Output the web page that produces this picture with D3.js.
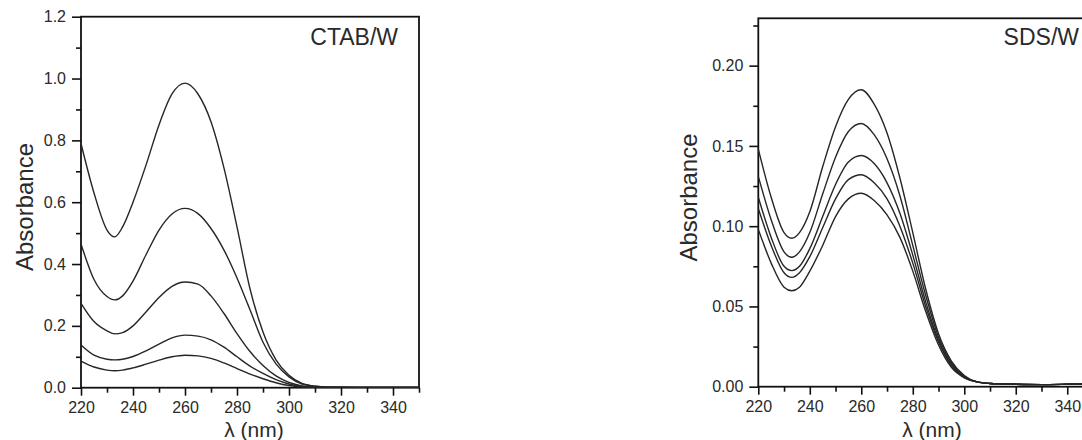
<!DOCTYPE html>
<html>
<head>
<meta charset="utf-8">
<script src="https://cdn.jsdelivr.net/npm/d3@7"></script>
<style>
    body { margin: 0; background: #fff; }
    text { font-family: "Liberation Sans", Arial, sans-serif; fill: #2a2a2a; }
</style>
</head>
<body>
<svg id="chart" width="1082" height="440"></svg>
<script>
    // wavelengths (nm) shared by all spectra
    var wavelengths = [220, 225, 230, 233, 236, 240, 245, 250, 255, 260, 265, 270, 275,
        280, 285, 290, 295, 300, 305, 310, 315, 320, 330, 340, 350];

    // CTAB/W spectra
    var ctab1 = [0.79, 0.63, 0.51, 0.488, 0.52, 0.60, 0.72, 0.85, 0.95, 0.985, 0.95, 0.86, 0.71,
        0.52, 0.32, 0.18, 0.09, 0.04, 0.014, 0.005, 0.002, 0.0015, 0.001, 0.001, 0.001];
    var ctab2 = [0.465, 0.35, 0.295, 0.284, 0.297, 0.345, 0.43, 0.51, 0.562, 0.58, 0.563, 0.515, 0.445,
        0.355, 0.252, 0.147, 0.077, 0.035, 0.012, 0.005, 0.002, 0.0015, 0.001, 0.001, 0.001];
    var ctab3 = [0.273, 0.214, 0.184, 0.174, 0.178, 0.2, 0.245, 0.292, 0.328, 0.342, 0.335, 0.297, 0.24,
        0.175, 0.117, 0.072, 0.038, 0.017, 0.006, 0.002, 0.0015, 0.001, 0.001, 0.001, 0.001];
    var ctab4 = [0.138, 0.105, 0.092, 0.09, 0.092, 0.101, 0.119, 0.141, 0.161, 0.17, 0.167, 0.155, 0.131,
        0.1, 0.07, 0.046, 0.026, 0.012, 0.004, 0.0015, 0.001, 0.001, 0.001, 0.001, 0.001];
    var ctab5 = [0.086, 0.067, 0.057, 0.055, 0.057, 0.064, 0.076, 0.089, 0.1, 0.105, 0.103, 0.095, 0.08,
        0.062, 0.044, 0.029, 0.016, 0.007, 0.003, 0.0015, 0.001, 0.001, 0.001, 0.001, 0.001];

    // SDS/W spectra
    var sds1 = [0.148, 0.118, 0.096, 0.0925, 0.096, 0.109, 0.137, 0.162, 0.179, 0.185, 0.176, 0.158, 0.13,
        0.096, 0.061, 0.033, 0.016, 0.007, 0.003, 0.002, 0.0017, 0.0015, 0.0013, 0.0015, 0.0018];
    var sds2 = [0.131, 0.104, 0.084, 0.0806, 0.084, 0.096, 0.12, 0.143, 0.159, 0.164, 0.157, 0.142, 0.119,
        0.088, 0.057, 0.031, 0.015, 0.0065, 0.003, 0.002, 0.0017, 0.0015, 0.0013, 0.0015, 0.0018];
    var sds3 = [0.118, 0.093, 0.075, 0.0723, 0.075, 0.086, 0.106, 0.126, 0.14, 0.144, 0.139, 0.127, 0.108,
        0.082, 0.053, 0.029, 0.014, 0.006, 0.003, 0.002, 0.0017, 0.0015, 0.0013, 0.0015, 0.0018];
    var sds4 = [0.111, 0.088, 0.071, 0.0681, 0.071, 0.081, 0.099, 0.117, 0.129, 0.132, 0.127, 0.117, 0.1,
        0.077, 0.05, 0.028, 0.013, 0.006, 0.003, 0.002, 0.0017, 0.0015, 0.0013, 0.0015, 0.0018];
    var sds5 = [0.098, 0.077, 0.062, 0.0598, 0.062, 0.072, 0.088, 0.106, 0.117, 0.1205, 0.116, 0.107, 0.093,
        0.072, 0.047, 0.026, 0.012, 0.0055, 0.003, 0.002, 0.0017, 0.0015, 0.0013, 0.0015, 0.0018];

    // tick values
    var xMajor = [220, 240, 260, 280, 300, 320, 340];
    var xMinor = [230, 250, 270, 290, 310, 330, 350];
    var ctabYMajor = [0, 0.2, 0.4, 0.6, 0.8, 1.0, 1.2];
    var ctabYMinor = [0.1, 0.3, 0.5, 0.7, 0.9, 1.1];
    var sdsYMajor = [0, 0.05, 0.10, 0.15, 0.20];
    var sdsYMinor = [0.025, 0.075, 0.125, 0.175, 0.225];

    var svg = d3.select("#chart");

    function drawPanel(opts){
        var xScale = d3.scaleLinear()
            .domain([220, 350])
            .range([opts.left, opts.right]);
        var yScale = d3.scaleLinear()
            .domain([0, opts.yMax])
            .range([opts.bottom, opts.top]);

        var g = svg.append("g");

        // frame
        g.append("rect")
            .attr("x", opts.left)
            .attr("y", opts.top)
            .attr("width", opts.right - opts.left)
            .attr("height", opts.bottom - opts.top)
            .attr("fill", "none")
            .attr("stroke", "#111")
            .attr("stroke-width", 1.8);

        // curves
        var line = d3.line()
            .x(function (d) { return xScale(d[0]); })
            .y(function (d) { return yScale(d[1]); })
            .curve(d3.curveMonotoneX);

        opts.series.forEach(function (s) {
            var pts = wavelengths.map(function (w, i) { return [w, s[i]]; });
            g.append("path")
                .datum(pts)
                .attr("d", line)
                .attr("fill", "none")
                .attr("stroke", "#262626")
                .attr("stroke-width", 1.4);
        });

        // x axis, major + minor
        var xAxis = d3.axisBottom(xScale)
            .tickValues(xMajor)
            .tickSize(8)
            .tickPadding(6)
            .tickFormat(d3.format("d"));
        var xa = g.append("g")
            .attr("transform", "translate(0," + opts.bottom + ")")
            .call(xAxis);
        var xAxisMinor = d3.axisBottom(xScale)
            .tickValues(xMinor)
            .tickSize(5)
            .tickFormat("");
        var xm = g.append("g")
            .attr("transform", "translate(0," + opts.bottom + ")")
            .call(xAxisMinor);

        // y axis, major + minor
        var yAxis = d3.axisLeft(yScale)
            .tickValues(opts.yMajor)
            .tickSize(9)
            .tickPadding(6)
            .tickFormat(d3.format(opts.yFormat));
        var ya = g.append("g")
            .attr("transform", "translate(" + opts.left + ",0)")
            .call(yAxis);
        var yAxisMinor = d3.axisLeft(yScale)
            .tickValues(opts.yMinor)
            .tickSize(5)
            .tickFormat("");
        var ym = g.append("g")
            .attr("transform", "translate(" + opts.left + ",0)")
            .call(yAxisMinor);

        [xa, xm, ya, ym].forEach(function (a) {
            a.select(".domain").remove();
            a.selectAll(".tick line").attr("stroke", "#111").attr("stroke-width", 1.6);
            a.selectAll(".tick text")
                .attr("font-size", 16)
                .attr("font-family", "Liberation Sans, Arial, sans-serif")
                .attr("fill", "#2a2a2a");
        });

        // axis titles
        g.append("text")
            .attr("transform", "translate(" + opts.yLabelX + "," + opts.yLabelY + ") rotate(-90)")
            .attr("text-anchor", "middle")
            .attr("font-size", 24)
            .text("Absorbance");
        g.append("text")
            .attr("x", opts.xLabelX)
            .attr("y", 437)
            .attr("text-anchor", "middle")
            .attr("font-size", 21)
            .text("\u03bb (nm)");

        // panel tag
        g.append("text")
            .attr("x", opts.tagX)
            .attr("y", 45)
            .attr("text-anchor", opts.tagAnchor)
            .attr("font-size", 23)
            .text(opts.tag);
    }

    drawPanel({
        left: 81, right: 419, top: 16.7, bottom: 387.7,
        yMax: 1.2, yMajor: ctabYMajor, yMinor: ctabYMinor, yFormat: ".1f",
        series: [ctab1, ctab2, ctab3, ctab4, ctab5],
        yLabelX: 33, yLabelY: 207, xLabelX: 254,
        tag: "CTAB/W", tagX: 398, tagAnchor: "end"
    });

    drawPanel({
        left: 758.3, right: 1093, top: 18.3, bottom: 386.7,
        yMax: 0.2295, yMajor: sdsYMajor, yMinor: sdsYMinor, yFormat: ".2f",
        series: [sds1, sds2, sds3, sds4, sds5],
        yLabelX: 697, yLabelY: 197.5, xLabelX: 932,
        tag: "SDS/W", tagX: 1079, tagAnchor: "end"
    });
</script>
</body>
</html>
